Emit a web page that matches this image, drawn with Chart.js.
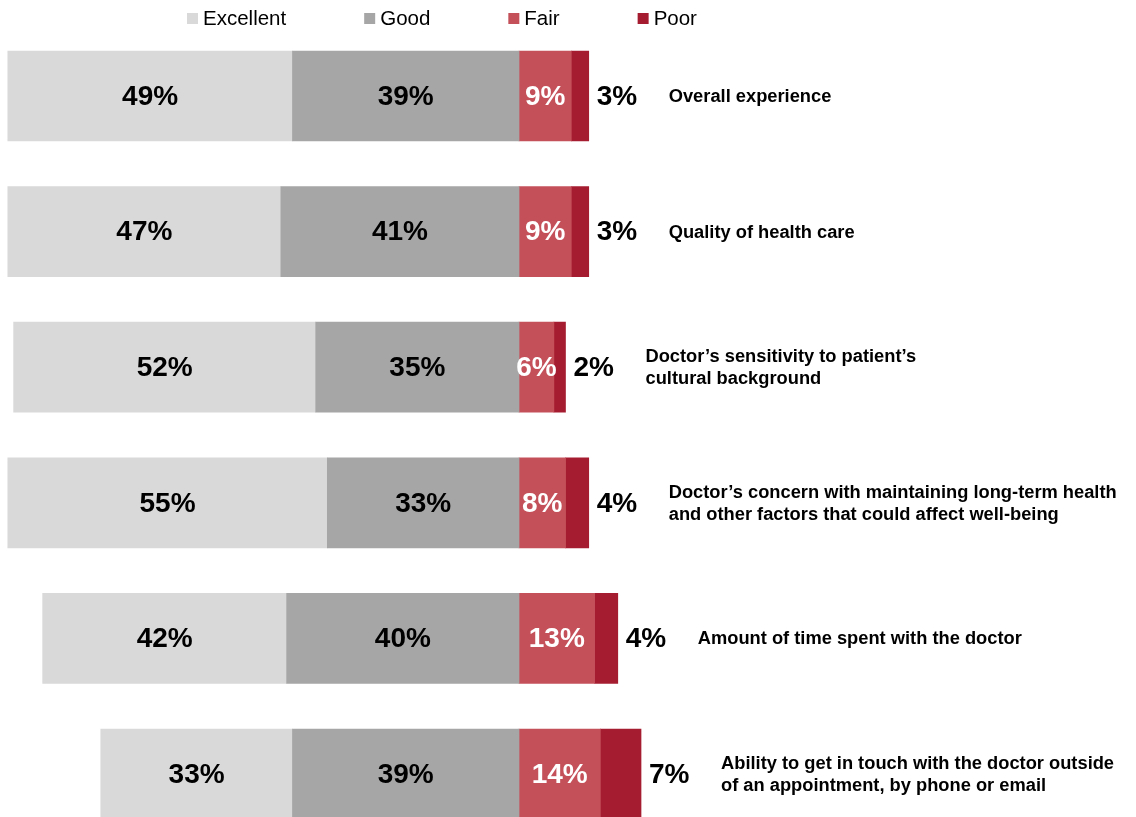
<html>
  <head>
    <style>
      body { margin: 0; background: #fff; }
      #wrap { width: 1136px; height: 817px; }
    </style>
    <script src="https://cdn.jsdelivr.net/npm/chart.js@4.4.0/dist/chart.umd.min.js"></script>
  </head>
  <body>
    <div id="wrap"><canvas id="myChart"></canvas></div>
    <script>
      // questions (rows), top to bottom
      const categories = [
        ["Overall experience"],
        ["Quality of health care"],
        ["Doctor\u2019s sensitivity to patient\u2019s", "cultural background"],
        ["Doctor\u2019s concern with maintaining long-term health", "and other factors that could affect well-being"],
        ["Amount of time spent with the doctor"],
        ["Ability to get in touch with the doctor outside", "of an appointment, by phone or email"]
      ];
      const seriesNames = ["Excellent", "Good", "Fair", "Poor"];
      const excellent = [49, 47, 52, 55, 42, 33];
      const good = [39, 41, 35, 33, 40, 39];
      const fair = [9, 9, 6, 8, 13, 14];
      const poor = [3, 3, 2, 4, 4, 7];
      const colors = ["#D9D9D9", "#A6A6A6", "#C4505A", "#A51C30"];

      const FONT = "'Liberation Sans', Arial, sans-serif";

      // excellent/good go left of zero, fair/poor go right
      const datasets = [
        { label: seriesNames[0], data: excellent.map(v => -v), backgroundColor: colors[0], order: 2 },
        { label: seriesNames[1], data: good.map(v => -v), backgroundColor: colors[1], order: 1 },
        { label: seriesNames[2], data: fair, backgroundColor: colors[2], order: 3 },
        { label: seriesNames[3], data: poor, backgroundColor: colors[3], order: 4 }
      ];

      const labelPlugin = {
        id: "labelPlugin",
        afterDatasetsDraw(chart) {
          const ctx = chart.ctx;
          ctx.save();
          ctx.textBaseline = "middle";
          chart.data.datasets.forEach((ds, di) => {
            const meta = chart.getDatasetMeta(di);
            meta.data.forEach((bar, i) => {
              const val = Math.abs(ds.data[i]) + "%";
              ctx.font = "bold 28px " + FONT;
              if (ds.label === "Poor") {
                const end = Math.max(bar.x, bar.base);
                ctx.fillStyle = "#000";
                ctx.textAlign = "left";
                ctx.fillText(val, end + 8, bar.y + 1);
                // question text
                ctx.font = "bold 18.3px " + FONT;
                const lines = chart.data.labels[i];
                const lh = 22;
                const y0 = bar.y - (lines.length - 1) * lh / 2;
                lines.forEach((ln, k) => ctx.fillText(ln, end + 80, y0 + k * lh + 1));
              } else {
                ctx.fillStyle = ds.label === "Fair" ? "#fff" : "#000";
                ctx.textAlign = "center";
                ctx.fillText(val, (bar.x + bar.base) / 2, bar.y + 1);
              }
            });
          });
          ctx.restore();
        }
      };

      const legendPlugin = {
        id: "legendPlugin",
        afterDraw(chart) {
          const ctx = chart.ctx;
          ctx.save();
          ctx.font = "20.5px " + FONT;
          ctx.textBaseline = "middle";
          ctx.textAlign = "left";
          let x = 187;
          seriesNames.forEach((name, k) => {
            ctx.fillStyle = colors[k];
            ctx.fillRect(x, 13, 11, 11);
            ctx.fillStyle = "#000";
            ctx.fillText(name, x + 16, 19);
            x += 16 + ctx.measureText(name).width + 78;
          });
          ctx.restore();
        }
      };

      new Chart(document.getElementById("myChart"), {
        type: "bar",
        data: { labels: categories, datasets: datasets },
        options: {
          indexAxis: "y",
          responsive: true,
          maintainAspectRatio: false,
          animation: false,
          datasets: { bar: { barThickness: 90, clip: false, borderWidth: 0 } },
          layout: { padding: { top: 96, bottom: 43, left: 2, right: 7 } },
          plugins: { legend: { display: false }, tooltip: { enabled: false } },
          scales: {
            x: { stacked: true, display: false, min: -89, max: 105 },
            y: { stacked: true, display: false, offset: false }
          }
        },
        plugins: [labelPlugin, legendPlugin]
      });
    </script>
  </body>
</html>
